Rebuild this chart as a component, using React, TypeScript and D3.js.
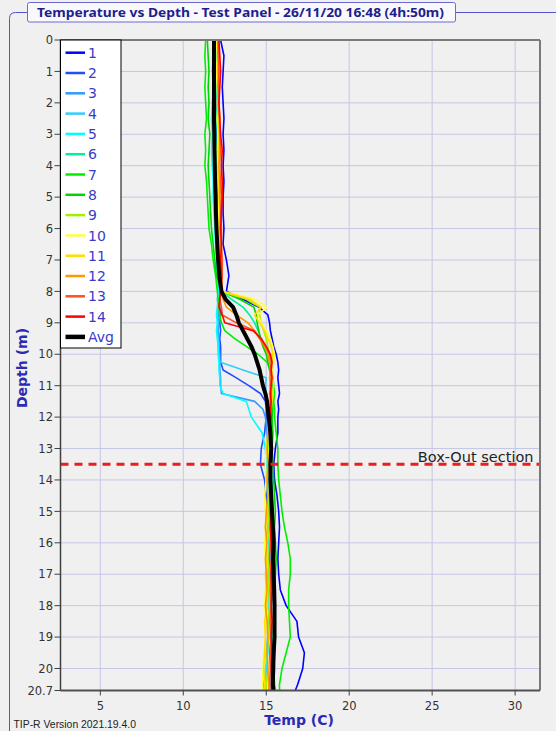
import React from 'react';
import * as d3 from 'd3';

// depth (m) of every sensor reading, shared by all probes
const depths = [
  0, 0.5, 1, 1.5, 2, 2.5, 3, 3.5, 4, 4.5, 5, 5.5, 6, 6.5, 7, 7.5,
  8, 8.25, 8.5, 8.75, 9, 9.25, 9.5, 9.75, 10, 10.25, 10.5, 10.75, 11, 11.25, 11.5, 11.75, 12,
  12.5, 13, 13.5, 14, 14.5, 15, 15.5, 16, 16.5, 17, 17.5, 18, 18.5, 19, 19.5, 20, 20.5,
  20.7,
];

// temperatures (C) per probe
const t1 = [
  12.25, 12.45, 12.4, 12.35, 12.4, 12.45, 12.4, 12.45, 12.4, 12.45, 12.4, 12.4, 12.45, 12.4, 12.6, 12.75,
  12.6, 13.6, 14.55, 15.1, 15.2, 15.25, 15.35, 15.45, 15.6, 15.7, 15.75, 15.7, 15.75, 15.8, 15.7, 15.75, 15.7,
  15.7, 15.55, 15.45, 15.5, 15.65, 15.75, 15.8, 15.75, 15.7, 15.75, 15.85, 16.2, 16.85, 16.95, 17.3, 17.2, 16.9,
  16.75,
];
const t2 = [
  12.05, 12.1, 12.0, 12.05, 12.0, 11.95, 12.0, 12.05, 12.0, 12.05, 12.1, 12.05, 12.1, 12.15, 12.2, 12.2,
  12.2, 12.2, 12.2, 12.25, 12.2, 12.25, 12.2, 12.25, 12.25, 12.25, 12.4, 13.2, 13.95, 14.65, 14.95, 15.0, 15.0,
  14.9, 14.7, 14.65, 14.9, 15.0, 15.1, 15.2, 15.3, 15.25, 15.3, 15.35, 15.3, 15.25, 15.3, 15.35, 15.3, 15.3,
  15.3,
];
const t3 = [
  11.95, 11.9, 11.95, 12.0, 11.95, 11.9, 11.95, 11.95, 12.0, 11.95, 11.95, 12.0, 12.0, 12.05, 12.1, 12.15,
  12.2, 12.15, 12.1, 12.1, 12.15, 12.1, 12.15, 12.15, 12.2, 12.2, 12.2, 12.25, 12.25, 12.3, 14.3, 14.8, 14.95,
  15.05, 15.1, 15.3, 15.2, 15.35, 15.3, 15.25, 15.2, 15.3, 15.25, 15.3, 15.2, 15.25, 15.3, 15.2, 15.25, 15.2,
  15.25,
];
const t4 = [
  11.9, 11.85, 11.9, 11.85, 11.8, 11.85, 11.8, 11.85, 11.9, 11.9, 11.95, 11.95, 12.0, 12.0, 12.05, 12.1,
  12.1, 12.05, 12.1, 12.05, 12.1, 12.05, 12.1, 12.1, 12.15, 12.2, 13.6, 15.0, 14.95, 15.0, 15.05, 15.1, 15.1,
  15.1, 15.0, 14.95, 15.0, 15.1, 15.2, 15.1, 15.15, 15.2, 15.1, 15.15, 15.2, 15.15, 15.1, 15.0, 15.05, 14.85,
  14.8,
];
const t5 = [
  11.85, 11.8, 11.75, 11.8, 11.75, 11.7, 11.75, 11.7, 11.75, 11.8, 11.8, 11.85, 11.9, 11.95, 12.0, 12.05,
  12.1, 12.1, 12.05, 12.0, 12.05, 12.0, 12.05, 12.1, 12.1, 12.15, 12.15, 12.2, 12.2, 12.4, 13.8, 13.95, 14.1,
  14.75, 14.95, 15.0, 15.1, 15.15, 15.1, 15.2, 15.15, 15.1, 15.2, 15.15, 15.1, 15.2, 15.15, 15.1, 14.95, 14.9,
  14.95,
];
const t6 = [
  11.95, 12.0, 11.95, 12.0, 11.95, 12.0, 11.95, 12.0, 12.0, 12.05, 12.05, 12.1, 12.1, 12.15, 12.2, 12.2,
  12.3, 12.9, 13.6, 14.0, 14.3, 14.5, 14.7, 14.9, 15.1, 15.2, 15.3, 15.3, 15.35, 15.3, 15.25, 15.3, 15.25,
  15.2, 15.25, 15.3, 15.35, 15.35, 15.4, 15.45, 15.5, 15.45, 15.4, 15.45, 15.5, 15.45, 15.4, 15.45, 15.5, 15.45,
  15.45,
];
const t7 = [
  11.35, 11.3, 11.35, 11.3, 11.35, 11.4, 11.3, 11.35, 11.3, 11.4, 11.45, 11.5, 11.55, 11.7, 11.8, 11.95,
  12.05, 12.1, 12.15, 12.2, 12.3, 12.5, 13.1, 13.8, 14.5, 15.05, 15.25, 15.4, 15.45, 15.5, 15.45, 15.5, 15.5,
  15.6, 15.7, 15.7, 15.75, 15.85, 15.95, 16.1, 16.3, 16.45, 16.45, 16.35, 16.35, 16.4, 16.45, 16.2, 15.95, 15.8,
  15.8,
];
const t8 = [
  11.45, 11.5, 11.55, 11.5, 11.55, 11.5, 11.6, 11.55, 11.5, 11.55, 11.6, 11.65, 11.7, 11.8, 11.9, 12.0,
  12.35, 13.4, 14.25, 14.4, 14.45, 14.55, 14.65, 14.8, 15.0, 15.1, 15.2, 15.3, 15.35, 15.3, 15.35, 15.4, 15.35,
  15.4, 15.35, 15.4, 15.45, 15.5, 15.55, 15.5, 15.55, 15.6, 15.55, 15.5, 15.55, 15.5, 15.55, 15.5, 15.45, 15.5,
  15.5,
];
const t9 = [
  11.9, 11.95, 11.9, 11.95, 11.9, 11.95, 11.9, 11.95, 11.95, 12.0, 12.0, 12.05, 12.05, 12.1, 12.15, 12.2,
  12.3, 13.8, 14.6, 14.6, 14.7, 14.85, 15.0, 15.1, 15.2, 15.25, 15.3, 15.25, 15.3, 15.35, 15.3, 15.3, 15.25,
  15.2, 15.15, 15.2, 15.25, 15.2, 15.15, 15.1, 15.2, 15.15, 15.1, 15.15, 15.2, 15.1, 15.15, 15.05, 15.1, 15.0,
  15.0,
];
const t10 = [
  12.0, 12.05, 12.0, 12.05, 12.1, 12.05, 12.1, 12.05, 12.1, 12.1, 12.15, 12.1, 12.15, 12.2, 12.2, 12.25,
  12.35, 14.3, 15.05, 14.5, 14.7, 15.0, 15.25, 15.4, 15.5, 15.45, 15.4, 15.35, 15.3, 15.3, 15.25, 15.2, 15.15,
  15.1, 15.0, 14.95, 15.0, 14.9, 14.95, 15.0, 14.9, 14.95, 15.0, 14.95, 14.9, 15.0, 14.95, 14.85, 14.8, 14.75,
  14.8,
];
const t11 = [
  12.05, 12.1, 12.05, 12.1, 12.05, 12.1, 12.15, 12.1, 12.15, 12.1, 12.15, 12.2, 12.15, 12.2, 12.25, 12.25,
  12.4, 14.0, 14.7, 14.3, 14.6, 14.9, 15.1, 15.3, 15.4, 15.35, 15.3, 15.4, 15.45, 15.4, 15.35, 15.3, 15.3,
  15.25, 15.2, 15.1, 15.05, 15.1, 15.05, 14.95, 15.0, 15.05, 14.95, 15.0, 15.05, 14.9, 14.95, 14.9, 14.85, 14.9,
  14.9,
];
const t12 = [
  12.1, 12.15, 12.1, 12.15, 12.1, 12.15, 12.2, 12.2, 12.15, 12.2, 12.2, 12.25, 12.2, 12.25, 12.3, 12.3,
  12.3, 12.4, 12.6, 13.2, 13.9, 14.3, 14.6, 14.9, 15.1, 15.2, 15.25, 15.2, 15.25, 15.2, 15.25, 15.2, 15.15,
  15.1, 15.05, 15.1, 15.05, 15.1, 15.0, 14.95, 15.05, 14.95, 15.0, 15.05, 14.95, 15.05, 15.1, 15.05, 15.1, 15.15,
  15.15,
];
const t13 = [
  12.1, 12.1, 12.15, 12.1, 12.15, 12.2, 12.2, 12.25, 12.3, 12.25, 12.3, 12.25, 12.3, 12.3, 12.35, 12.35,
  12.3, 12.2, 12.3, 12.35, 13.2, 14.3, 14.6, 14.95, 15.2, 15.3, 15.25, 15.3, 15.25, 15.3, 15.25, 15.3, 15.25,
  15.2, 15.25, 15.2, 15.3, 15.25, 15.2, 15.3, 15.25, 15.2, 15.3, 15.25, 15.3, 15.25, 15.3, 15.25, 15.3, 15.3,
  15.3,
];
const t14 = [
  12.15, 12.2, 12.25, 12.2, 12.15, 12.2, 12.25, 12.35, 12.3, 12.35, 12.35, 12.3, 12.25, 12.3, 12.25, 12.3,
  12.25, 12.2, 12.15, 12.35, 12.5, 14.2, 14.7, 15.0, 15.25, 15.35, 15.3, 15.35, 15.3, 15.25, 15.3, 15.25, 15.3,
  15.25, 15.3, 15.25, 15.2, 15.25, 15.3, 15.25, 15.3, 15.35, 15.3, 15.35, 15.3, 15.35, 15.3, 15.35, 15.3, 15.35,
  15.35,
];
const tAvg = [
  11.85, 11.85, 11.85, 11.85, 11.85, 11.85, 11.87, 11.88, 11.9, 11.92, 11.95, 11.97, 12.0, 12.05, 12.1, 12.17,
  12.3, 12.55, 13.0, 13.2, 13.35, 13.6, 13.85, 14.1, 14.3, 14.45, 14.6, 14.7, 14.8, 14.95, 15.05, 15.1, 15.15,
  15.25, 15.3, 15.25, 15.25, 15.3, 15.35, 15.4, 15.45, 15.42, 15.45, 15.48, 15.5, 15.5, 15.5, 15.45, 15.42, 15.4,
  15.45,
];

const probeTemps = [t1, t2, t3, t4, t5, t6, t7, t8, t9, t10, t11, t12, t13, t14];
const probeNames = ['1', '2', '3', '4', '5', '6', '7', '8', '9', '10', '11', '12', '13', '14'];
const probeColors = [
  '#0000ff', '#1f4fff', '#3399ff', '#33ccff', '#00ffff', '#00f0a0', '#00ee00',
  '#00d400', '#a0f000', '#ffff40', '#ffdd00', '#ff9900', '#ff5020', '#ff0000',
];

const xTicks = [5, 10, 15, 20, 25, 30];
const yTicks = [0, 1, 2, 3, 4, 5, 6, 7, 8, 9, 10, 11, 12, 13, 14, 15, 16, 17, 18, 19, 20, 20.7];
const yGrid = [1, 2, 3, 4, 5, 6, 7, 8, 9, 10, 11, 12, 13, 14, 15, 16, 17, 18, 19, 20];
const boxOutDepth = 13.5;

const W = 556;
const H = 731;
const plot = { left: 60.5, right: 540, top: 40, bottom: 690.5 };

const App: React.FC = () => {
  const x = d3.scaleLinear().domain([2.6, 31.5]).range([plot.left, plot.right]);
  const y = d3.scaleLinear().domain([0, 20.7]).range([plot.top, plot.bottom]);

  const line = d3.line<number>()
    .x(t => x(t))
    .y((_, i) => y(depths[i]));

  const legendItems = [
    ...probeNames.map((n, i) => ({ name: n, color: probeColors[i], w: 2.5 })),
    { name: 'Avg', color: '#000', w: 4.5 },
  ];

  const tickFont = "'DejaVu Sans', Verdana, sans-serif";

  return (
    <svg width={W} height={H} style={{ position: 'absolute', left: 0, top: 0 }}>
      <rect x={0} y={0} width={W} height={H} fill="#f0f0f0" />

      {/* group frame */}
      <path d={`M9.5,${H} L9.5,18.5 Q9.5,12.5 15.5,12.5 L${W},12.5`} fill="none" stroke="#5454cc" strokeWidth={1} />
      <rect x={27.5} y={2.5} width={428} height={19.5} rx={2} fill="#f9f9fd" stroke="#6a6ad2" strokeWidth={1} />
      <text x={37} y={17} textLength={407} lengthAdjust="spacingAndGlyphs"
        fontFamily="'Noto Sans', sans-serif" fontWeight="bold" fontSize={13} fill="#1e1e8e">
        Temperature vs Depth - Test Panel - 26/11/20 16:48 (4h:50m)
      </text>

      <defs>
        <clipPath id="plotClip">
          <rect x={plot.left} y={plot.top} width={plot.right - plot.left} height={plot.bottom - plot.top} />
        </clipPath>
      </defs>

      {/* grid */}
      {yGrid.map(d => (
        <line key={'gy' + d} x1={plot.left} x2={plot.right} y1={y(d)} y2={y(d)} stroke="#c6c6e6" strokeWidth={1} />
      ))}
      {xTicks.map(t => (
        <line key={'gx' + t} x1={x(t)} x2={x(t)} y1={plot.top} y2={plot.bottom} stroke="#c6c6e6" strokeWidth={1} />
      ))}

      {/* probe traces */}
      <g clipPath="url(#plotClip)">
        {probeTemps.map((temps, i) => (
          <path key={'p' + i} d={line(temps) || ''} fill="none" stroke={probeColors[i]}
            strokeWidth={1.6} strokeLinejoin="round" />
        ))}
        <path d={line(tAvg) || ''} fill="none" stroke="#000" strokeWidth={4} strokeLinejoin="round" />
        <line x1={plot.left} x2={plot.right} y1={y(boxOutDepth)} y2={y(boxOutDepth)}
          stroke="#ee1c1c" strokeWidth={3} strokeDasharray="8,6" />
      </g>
      <text x={533.5} y={y(boxOutDepth) - 2.5} textAnchor="end" fontFamily={tickFont} fontSize={14.5} fill="#222">
        Box-Out section
      </text>

      {/* frame */}
      <line x1={plot.left} x2={plot.right} y1={plot.top} y2={plot.top} stroke="#7a7a7a" strokeWidth={2} />
      <line x1={plot.right} x2={plot.right} y1={plot.top} y2={plot.bottom} stroke="#7a7a7a" strokeWidth={2} />
      <line x1={plot.left} x2={plot.left} y1={plot.top} y2={plot.bottom} stroke="#404040" strokeWidth={1.5} />
      <line x1={plot.left} x2={plot.right} y1={plot.bottom} y2={plot.bottom} stroke="#505050" strokeWidth={2} />

      {/* y axis */}
      {yTicks.map(d => (
        <g key={'ty' + d}>
          <line x1={plot.left - 6} x2={plot.left} y1={y(d)} y2={y(d)} stroke="#404040" strokeWidth={1} />
          <text x={53} y={y(d)} dy="0.36em" textAnchor="end" fontFamily={tickFont} fontSize={11.5} fill="#333">
            {d}
          </text>
        </g>
      ))}
      {/* x axis */}
      {xTicks.map(t => (
        <g key={'tx' + t}>
          <line x1={x(t)} x2={x(t)} y1={plot.bottom} y2={plot.bottom + 5} stroke="#404040" strokeWidth={1} />
          <text x={x(t)} y={709.5} textAnchor="middle" fontFamily={tickFont} fontSize={11.5} fill="#333">
            {t}
          </text>
        </g>
      ))}

      <text x={299} y={724.5} textAnchor="middle" fontFamily="'DejaVu Sans', sans-serif" fontWeight="bold"
        fontSize={14} fill="#2a2ab4">Temp (C)</text>
      <text transform="translate(27,368) rotate(-90)" textAnchor="middle" fontFamily="'DejaVu Sans', sans-serif"
        fontWeight="bold" fontSize={14} fill="#2a2ab4">Depth (m)</text>

      <text x={13.5} y={728} fontFamily="'Liberation Sans', Arial, sans-serif" fontSize={10.4} fill="#222">
        TIP-R Version 2021.19.4.0
      </text>

      {/* legend */}
      <rect x={plot.left} y={plot.top} width={60.5} height={308} fill="#fff" stroke="#000" strokeWidth={1} />
      {legendItems.map((it, i) => {
        const cy = 52.7 + i * 20.3;
        return (
          <g key={'lg' + i}>
            <line x1={65.5} x2={85} y1={cy} y2={cy} stroke={it.color} strokeWidth={it.w} />
            <text x={88} y={cy} dy="0.37em" fontFamily={tickFont} fontSize={14} fill="#3b3bc6">
              {it.name}
            </text>
          </g>
        );
      })}
    </svg>
  );
};

export default App;
